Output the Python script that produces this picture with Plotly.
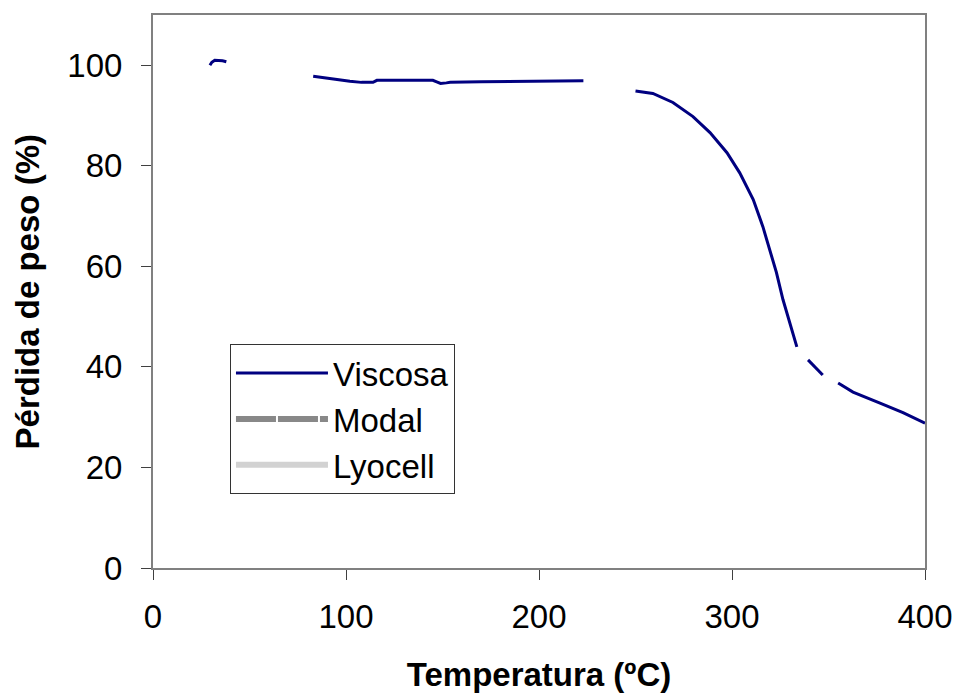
import plotly.graph_objects as go

# Viscosa TGA curve (None = gaps where the curve is hidden in the original)
temp_viscosa = [29.5, 30.5, 32, 34, 36, 38, None,
                83, 90, 96, 102, 108, 112.5, 114, 116, 120, 130, 140, 145, 147, 149, 152, 154,
                170, 190, 210, 223, None,
                250, 259, 269.4, 279.8, 288.6, 297.4, 304, 311, 316, 319.7, 323, 326.4, 330, 333.6, None,
                339.4, 347, None,
                355, 362.7, 376.7, 388.6, 400]
peso_viscosa = [100, 100.6, 101, 101, 100.9, 100.7, None,
                97.8, 97.4, 97.1, 96.8, 96.6, 96.5, 96.6, 97, 97, 97, 97, 97, 96.7, 96.4, 96.5, 96.6,
                96.7, 96.8, 96.9, 96.9, None,
                94.9, 94.4, 92.6, 89.8, 86.6, 82.6, 78.6, 73.3, 67.9, 63.3, 58.8, 53.4, 48.8, 44.0, None,
                41.4, 38.4, None,
                36.8, 35.0, 32.8, 30.9, 28.8]
# Modal and Lyocell are not visible in the plot area of the original (legend only)
temp_modal = [None]
peso_modal = [None]
temp_lyocell = [None]
peso_lyocell = [None]

x_ticks = [0, 100, 200, 300, 400]
y_ticks = [0, 20, 40, 60, 80, 100]

FONT = "Liberation Sans, Arial, sans-serif"
FS = 33

fig = go.Figure()
fig.add_trace(go.Scatter(x=temp_viscosa, y=peso_viscosa, mode="lines", name="Viscosa",
                         line=dict(color="#000080", width=3)))
fig.add_trace(go.Scatter(x=temp_modal, y=peso_modal, mode="lines", name="Modal",
                         line=dict(color="#888888", width=6, dash="40px,2px")))
fig.add_trace(go.Scatter(x=temp_lyocell, y=peso_lyocell, mode="lines", name="Lyocell",
                         line=dict(color="#d2d2d2", width=6)))

axis_common = dict(showgrid=False, zeroline=False, showline=True, linecolor="#808080",
                   linewidth=2, mirror=True, ticks="outside", ticklen=10, tickwidth=1,
                   tickcolor="#404040", tickfont=dict(family=FONT, size=FS, color="black"),
                   automargin=False)

fig.update_xaxes(range=[0, 400], tickvals=x_ticks, ticklabelstandoff=8,
                 title=dict(text="<b>Temperatura (ºC)</b>", font=dict(family=FONT, size=FS, color="black"),
                            standoff=29),
                 **axis_common)
fig.update_yaxes(range=[0, 110], tickvals=y_ticks, ticklabelstandoff=12,
                 **axis_common)

fig.add_annotation(text="<b>Pérdida de peso (%)</b>", xref="paper", yref="paper",
                   x=-0.162, y=0.5, xanchor="center", yanchor="middle", textangle=-90,
                   showarrow=False, font=dict(family=FONT, size=FS, color="black"))

fig.update_layout(
    width=958, height=695,
    margin=dict(l=153, r=33, t=15, b=127),
    paper_bgcolor="white", plot_bgcolor="white",
    font=dict(family=FONT, size=FS, color="black"),
    legend=dict(x=0.0997, y=0.405, xanchor="left", yanchor="top",
                bgcolor="white", bordercolor="#333333", borderwidth=1,
                font=dict(family=FONT, size=FS, color="black"),
                itemwidth=92),
    showlegend=True,
)

fig.write_html("out.html")
